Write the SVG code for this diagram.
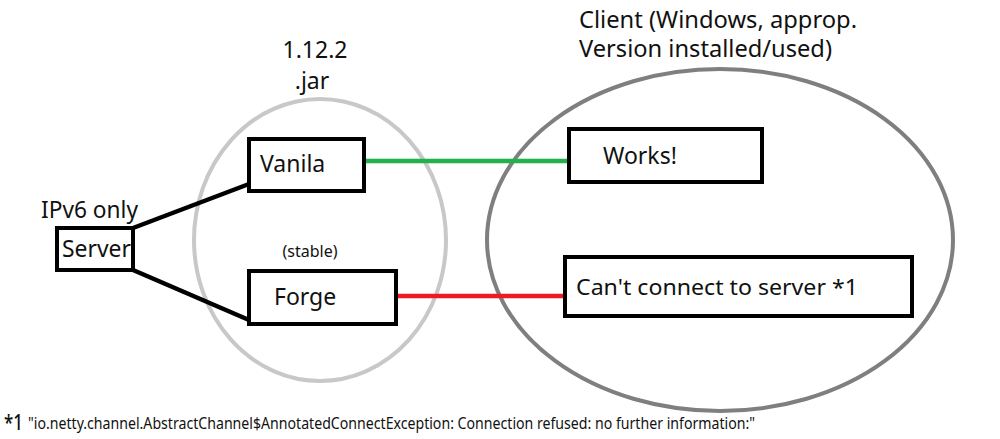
<svg xmlns="http://www.w3.org/2000/svg" width="1000" height="439" viewBox="0 0 1000 439">
<style>
.t{font-family:"Noto Sans","Open Sans",sans-serif;fill:#111;}
.box{fill:#fff;stroke:#000;stroke-width:4;}
.conn{fill:none;stroke-width:4.5;stroke-linecap:butt;}
</style>
<rect width="1000" height="439" fill="#fff"/>
<g id="jar">
<ellipse cx="320" cy="240" rx="126" ry="141" fill="none" stroke="#c8c8c8" stroke-width="4"/>
<text class="t" x="315" y="58" font-size="23" text-anchor="middle">1.12.2</text>
<text class="t" x="312" y="89" font-size="23" text-anchor="middle">.jar</text>
<text class="t" x="310" y="257" font-size="16" text-anchor="middle">(stable)</text>
</g>
<g id="client">
<ellipse cx="720" cy="240" rx="233" ry="171" fill="none" stroke="#7f7f7f" stroke-width="4"/>
<text class="t" x="579" y="28" font-size="23" textLength="278" lengthAdjust="spacingAndGlyphs">Client (Windows, approp.</text>
<text class="t" x="579" y="57" font-size="23" textLength="253" lengthAdjust="spacingAndGlyphs">Version installed/used)</text>
</g>
<g id="connectors">
<line class="conn" x1="133" y1="228" x2="249" y2="184" stroke="#000"/>
<line class="conn" x1="133" y1="270" x2="249" y2="320" stroke="#000"/>
<line class="conn" x1="365" y1="161" x2="567" y2="161" stroke="#22b14c"/>
<line class="conn" x1="398" y1="296" x2="563" y2="296" stroke="#ed1c24"/>
</g>
<g id="server">
<text class="t" x="41" y="218" font-size="23" textLength="97" lengthAdjust="spacingAndGlyphs">IPv6 only</text>
<rect class="box" x="57" y="228" width="76" height="42"/>
<text class="t" x="62" y="257" font-size="23" textLength="69" lengthAdjust="spacingAndGlyphs">Server</text>
</g>
<g id="vanila">
<rect class="box" x="249" y="139" width="115" height="52"/>
<text class="t" x="260" y="172" font-size="23">Vanila</text>
</g>
<g id="forge">
<rect class="box" x="249" y="271" width="147" height="53"/>
<text class="t" x="274" y="305" font-size="23">Forge</text>
</g>
<g id="works">
<rect class="box" x="569" y="129" width="193" height="53"/>
<text class="t" x="603" y="164" font-size="23">Works!</text>
</g>
<g id="cant">
<rect class="box" x="565" y="257" width="347" height="59"/>
<text class="t" x="576" y="295" font-size="22" textLength="282" lengthAdjust="spacingAndGlyphs">Can't connect to server *1</text>
</g>
<g id="footnote">
<text class="t" x="4" y="430" font-size="21" font-weight="500" textLength="19" lengthAdjust="spacingAndGlyphs">*1</text>
<text class="t" x="28" y="429" font-size="17" textLength="727" lengthAdjust="spacingAndGlyphs">"io.netty.channel.AbstractChannel$AnnotatedConnectException: Connection refused: no further information:"</text>
</g>
</svg>
